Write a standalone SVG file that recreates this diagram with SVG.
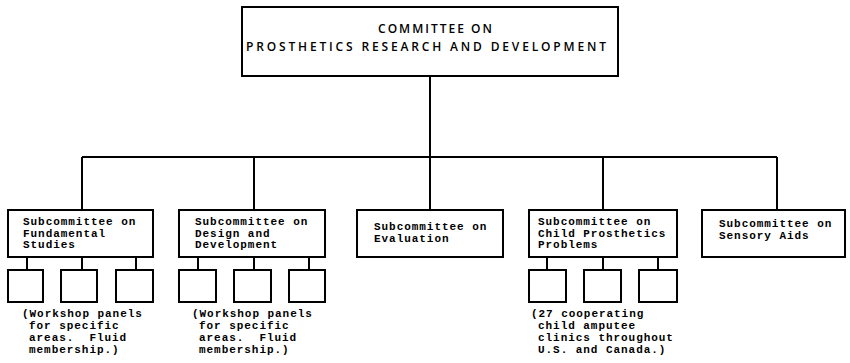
<svg xmlns="http://www.w3.org/2000/svg" width="850" height="363" viewBox="0 0 850 363">
<style>
.box{fill:#fff;stroke:#000;stroke-width:2}
.sub{fill:#fff;stroke:#000;stroke-width:2}
.ln{stroke:#000;stroke-width:2;fill:none}
.top{font-family:"Open Sans","Liberation Sans",Arial,sans-serif;font-size:12px;font-weight:600;fill:#000}
.mono{font-family:"Liberation Mono","Courier New",monospace;font-size:11px;letter-spacing:0.95px;font-weight:bold;fill:#000;white-space:pre}
</style>
<rect width="850" height="363" fill="#fff"/>
<g id="connectors">
<path class="ln" d="M430 76V157M82 157H777M82 157V210M254 157V210M430 157V210M603 157V210M777 157V210"/>
<path class="ln" d="M27 257V270M82 257V270M136 257V270"/>
<path class="ln" d="M198 257V270M254 257V270M309 257V270"/>
<path class="ln" d="M547 257V270M603 257V270M658 257V270"/>
</g>
<g id="committee">
<rect class="box" x="242" y="7" width="376" height="69"/>
<text class="top" x="378" y="33" textLength="114" lengthAdjust="spacing">COMMITTEE ON</text>
<text class="top" x="246" y="51" textLength="360" lengthAdjust="spacing">PROSTHETICS RESEARCH AND DEVELOPMENT</text>
</g>
<g id="fundamental">
<rect class="box" x="8" y="210" width="145" height="47"/>
<text class="mono" x="23" y="225">Subcommittee on</text>
<text class="mono" x="23" y="237">Fundamental</text>
<text class="mono" x="23" y="248">Studies</text>
</g>
<g id="design">
<rect class="box" x="179" y="210" width="146" height="47"/>
<text class="mono" x="195" y="225">Subcommittee on</text>
<text class="mono" x="195" y="237">Design and</text>
<text class="mono" x="195" y="248">Development</text>
</g>
<g id="evaluation">
<rect class="box" x="357" y="210" width="146" height="47"/>
<text class="mono" x="374" y="230">Subcommittee on</text>
<text class="mono" x="374" y="242">Evaluation</text>
</g>
<g id="child">
<rect class="box" x="529" y="210" width="148" height="47"/>
<text class="mono" x="538" y="225">Subcommittee on</text>
<text class="mono" x="538" y="237">Child Prosthetics</text>
<text class="mono" x="538" y="248">Problems</text>
</g>
<g id="sensory">
<rect class="box" x="702" y="210" width="143" height="47"/>
<text class="mono" x="719" y="227">Subcommittee on</text>
<text class="mono" x="719" y="239">Sensory Aids</text>
</g>
<g id="fundamental-panels">
<rect class="sub" x="8" y="270" width="35" height="32"/>
<rect class="sub" x="61" y="270" width="36" height="32"/>
<rect class="sub" x="116" y="270" width="37" height="32"/>
<text class="mono" x="22" y="317">(Workshop panels</text>
<text class="mono" x="29" y="329">for specific</text>
<text class="mono" x="29" y="341">areas.  Fluid</text>
<text class="mono" x="29" y="353">membership.)</text>
</g>
<g id="design-panels">
<rect class="sub" x="179" y="270" width="37" height="32"/>
<rect class="sub" x="234" y="270" width="37" height="32"/>
<rect class="sub" x="289" y="270" width="36" height="32"/>
<text class="mono" x="192" y="317">(Workshop panels</text>
<text class="mono" x="199" y="329">for specific</text>
<text class="mono" x="199" y="341">areas.  Fluid</text>
<text class="mono" x="199" y="353">membership.)</text>
</g>
<g id="child-clinics">
<rect class="sub" x="529" y="270" width="37" height="32"/>
<rect class="sub" x="584" y="270" width="37" height="32"/>
<rect class="sub" x="639" y="270" width="38" height="32"/>
<text class="mono" x="531" y="317">(27 cooperating</text>
<text class="mono" x="538" y="329">child amputee</text>
<text class="mono" x="538" y="341">clinics throughout</text>
<text class="mono" x="538" y="353">U.S. and Canada.)</text>
</g>
</svg>
